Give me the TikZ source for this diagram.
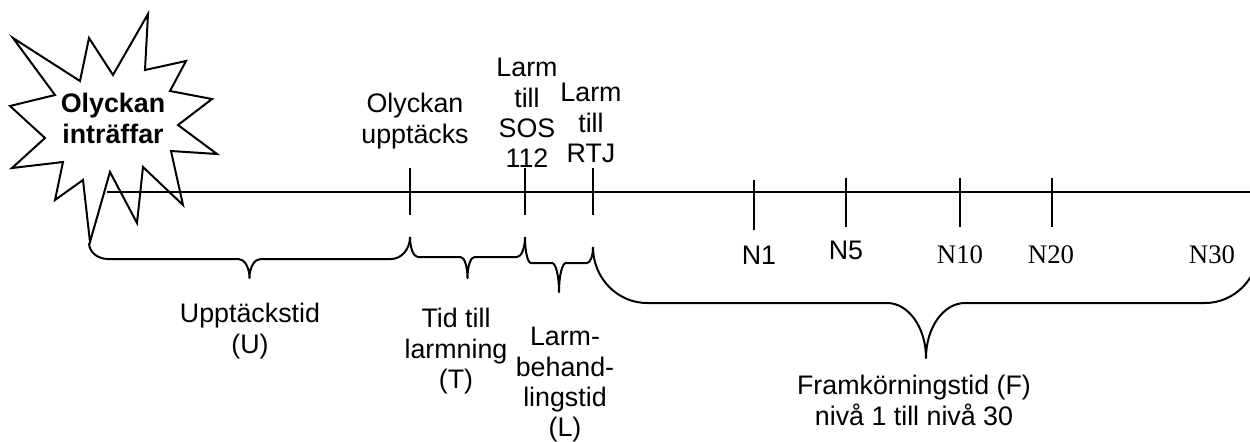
\documentclass[tikz,border=0pt]{standalone}
\usepackage{fontspec}
\setmainfont{Liberation Sans}
\newfontfamily\serifN{Liberation Serif}
% #1 x1, #2 y1, #3 x2, #4 y2, #5 y of flat part, #6 y of tip, #7 end radius, #8 middle radius
\newcommand\wbrace[8]{%
\draw[brace] (#1,#2) .. controls (#1,{#2+0.552*(#5-#2)}) and ({#1+0.448*#7},#5) .. ({#1+#7},#5)
 -- ({(#1+#3)/2-#8},#5) .. controls ({(#1+#3)/2-0.448*#8},#5) and ({(#1+#3)/2},{#5+0.448*(#6-#5)}) .. ({(#1+#3)/2},#6)
 .. controls ({(#1+#3)/2},{#5+0.448*(#6-#5)}) and ({(#1+#3)/2+0.448*#8},#5) .. ({(#1+#3)/2+#8},#5)
 -- ({#3-#7},#5) .. controls ({#3-0.448*#7},#5) and (#3,{#4+0.552*(#5-#4)}) .. (#3,#4);}
\begin{document}
\begin{tikzpicture}[x=0.5pt,y=-0.5pt,
  lbl/.style={font=\fontsize{13.4}{15.15}\selectfont, align=center, inner sep=0pt, anchor=north},
  burstlbl/.style={font=\fontsize{13.4}{15.15}\selectfont\bfseries, align=center, inner sep=0pt, anchor=north},
  nsans/.style={font=\fontsize{13.4}{15}\selectfont, inner sep=0pt, anchor=base},
  nserif/.style={font=\serifN\fontsize{13.4}{15}\selectfont, inner sep=0pt, anchor=base},
  axis/.style={line width=1pt},
  tickmark/.style={line width=0.9pt},
  brace/.style={line width=1pt, line join=round},
  burst/.style={line width=1pt, line join=miter, fill=white}]
\useasboundingbox (0,0) rectangle (1250,441);
\clip (0,0) rectangle (1250,441);
% starburst
\draw[burst] (13,38) -- (80,81) -- (89,38) -- (113,75) -- (148,14) -- (145,70)
  -- (186,61) -- (170,91) -- (212,99) -- (178,125) -- (217,154) -- (171,151)
  -- (183,205) -- (143,167) -- (137,223) -- (110,172) -- (90,242) -- (83,180)
  -- (55,200) -- (63,162) -- (12,168) -- (45,138) -- (10,106) -- (55,95) -- cycle;
\node[burstlbl] (burst) at (113,93) {Olyckan\\inträffar};
% time axis
\coordinate (axstart) at (107,192);
\coordinate (axend) at (1250,192);
\draw[axis] (axstart) -- (axend);
% upper ticks
\coordinate (tU) at (410,192);
\coordinate (tS) at (525,192);
\coordinate (tR) at (593,192);
\foreach \c in {tU,tS,tR} \draw[tickmark] (\c) ++(0,-24) -- ++(0,47);
% lower ticks
\coordinate (n1) at (754,192);
\coordinate (n5) at (846,192);
\coordinate (n10) at (960,192);
\coordinate (n20) at (1052,192);
\draw[tickmark] (n1) ++(0,-12) -- ++(0,50);
\foreach \c in {n5,n10,n20} \draw[tickmark] (\c) ++(0,-14) -- ++(0,49);
% upper labels
\node[lbl] (upptacks) at (415,93) {Olyckan\\upptäcks};
\node[lbl] (sos) at (527,58) {Larm\\till\\SOS\\112};
\node[lbl] (rtj) at (591,83) {Larm\\till\\RTJ};
% level labels
\node[nsans] (N1) at (759,264) {N1};
\node[nsans] (N5) at (846,259) {N5};
\node[nserif] (N10) at (960,263) {N10};
\node[nserif] (N20) at (1051,263) {N20};
\node[nserif] (N30) at (1212,263) {N30};
% braces
\wbrace{89}{243}{410}{237}{259}{278}{19}{11}
\wbrace{410}{237}{525}{237}{257}{278}{8}{7}
\wbrace{525}{237}{593}{247}{263}{292}{6}{7}
\wbrace{593}{247}{1259}{247}{303}{358}{54}{39}
% lower labels
\node[lbl] (U) at (250,303) {Upptäckstid\\(U)};
\node[lbl] (T) at (456,308) {Tid till\\larmning\\(T)};
\node[lbl] (L) at (565,327) {Larm-\\behand-\\lingstid\\(L)};
\node[lbl] (F) at (914,375) {Framkörningstid (F)\\nivå 1 till nivå 30};
\end{tikzpicture}
\end{document}
